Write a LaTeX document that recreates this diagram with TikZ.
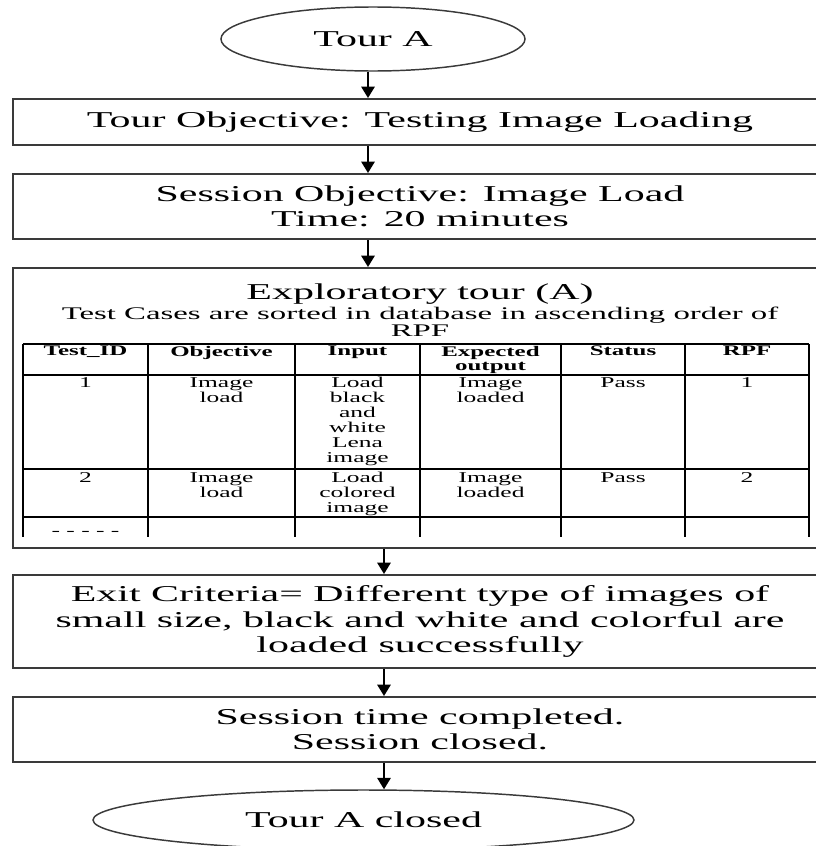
\documentclass[tikz,border=0pt]{standalone}
\usepackage{fontspec}
\setmainfont{Liberation Serif}
\newfontfamily\mainf{Liberation Serif}[FakeStretch=1.85]
\newfontfamily\tabf{Liberation Serif}[FakeStretch=1.7]
\usetikzlibrary{arrows.meta,shapes.geometric}
\definecolor{edgec}{HTML}{3A3A3A}
\tikzset{
  box/.style={draw=edgec, line width=1.5pt, minimum width=610.5pt, inner sep=0pt, align=center,
              font=\mainf\fontsize{17}{19}\selectfont},
  oval/.style={ellipse, draw=edgec, line width=1.1pt, inner sep=0pt,
              font=\mainf\fontsize{17}{19}\selectfont},
  titletext/.style={inner sep=0pt, anchor=base, font=\mainf\fontsize{17}{19}\selectfont},
  subtext/.style={inner sep=0pt, anchor=base, font=\mainf\fontsize{13.3}{13}\selectfont},
  arr/.style={line width=1.4pt, black, -{Triangle[width=10pt,length=8.5pt]}},
  tline/.style={line width=1.5pt, black},
  cell/.style={anchor=north, align=center, inner sep=0pt, font=\tabf\fontsize{11.25}{11.25}\selectfont},
  hcell/.style={anchor=north, align=center, inner sep=0pt, font=\tabf\bfseries\fontsize{11}{10.2}\selectfont}
}
\begin{document}
\begin{tikzpicture}[x=0.75pt,y=-0.75pt]
\useasboundingbox (0,0) rectangle (816,846);
\clip (0,0) rectangle (816,846);

% main flow
\node[oval, minimum width=228pt, minimum height=48pt] (e1) at (373,39) {Tour A};
\node[box, minimum height=34.5pt] (b1) at (420,122) {Tour Objective: Testing Image Loading};
\node[box, minimum height=48.75pt] (b2) at (420,206.5) {Session Objective: Image Load\\Time: 20 minutes};
\node[box, minimum height=210pt] (b3) at (420,408) {};
\node[box, minimum height=69.75pt] (b4) at (420,621.5) {Exit Criteria= Different type of images of\\small size, black and white and colorful are\\loaded successfully};
\node[box, minimum height=48.75pt] (b5) at (420,729.5) {Session time completed.\\Session closed.};
\node[oval, minimum width=405.75pt, minimum height=45pt] (e2) at (363.5,820) {Tour A closed};

% titles in box 3
\node[titletext] (t1) at (420,299) {Exploratory tour (A)};
\node[subtext] (t2) at (420,319) {Test Cases are sorted in database in ascending order of};
\node[subtext] (t3) at (420,336) {RPF};

% table grid
\foreach \y in {344,375,469,517} \draw[tline] (23,\y) -- (809,\y);
\foreach \x in {23,148,295,420,561,685,809} \draw[tline] (\x,344) -- (\x,537);

% header row
\node[hcell] (h1) at (85.5,346) {Test\_ID};
\node[hcell] (h2) at (221.5,346) {Objective};
\node[hcell] (h3) at (357.5,346) {Input};
\node[hcell] (h4) at (490.5,346) {Expected\\output};
\node[hcell] (h5) at (623,346) {Status};
\node[hcell] (h6) at (747,346) {RPF};

% row 1
\node[cell] (r11) at (85.5,377) {1};
\node[cell] (r12) at (221.5,377) {Image\\load};
\node[cell] (r13) at (357.5,377) {Load\\black\\and\\white\\Lena\\image};
\node[cell] (r14) at (490.5,377) {Image\\loaded};
\node[cell] (r15) at (623,377) {Pass};
\node[cell] (r16) at (747,377) {1};

% row 2
\node[cell] (r21) at (85.5,472) {2};
\node[cell] (r22) at (221.5,472) {Image\\load};
\node[cell] (r23) at (357.5,472) {Load\\colored\\image};
\node[cell] (r24) at (490.5,472) {Image\\loaded};
\node[cell] (r25) at (623,472) {Pass};
\node[cell] (r26) at (747,472) {2};

% row 3 (cut off)
\node[cell, anchor=center] (r31) at (85.5,533) {- - - - -};

% connectors
\coordinate (ax1) at (368,0);
\coordinate (ax2) at (384,0);
\draw[arr] (e1.south -| ax1) -- (b1.north -| ax1);
\draw[arr] (b1.south -| ax1) -- (b2.north -| ax1);
\draw[arr] (b2.south -| ax1) -- (b3.north -| ax1);
\draw[arr] (b3.south -| ax2) -- (b4.north -| ax2);
\draw[arr] (b4.south -| ax2) -- (b5.north -| ax2);
\draw[arr] (b5.south -| ax2) -- (e2.north -| ax2);
\end{tikzpicture}
\end{document}
